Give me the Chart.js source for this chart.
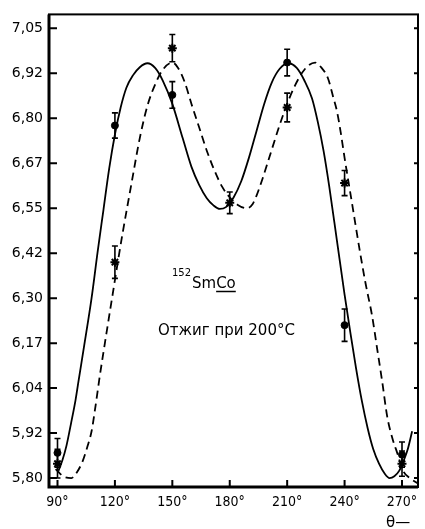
<!DOCTYPE html>
<html>
<head>
<meta charset="utf-8">
<script src="https://cdn.jsdelivr.net/npm/chart.js@4.4.1/dist/chart.umd.min.js"></script>
<style>
  html, body { margin: 0; padding: 0; background: #fff; }
  canvas { display: block; }
</style>
</head>
<body>
<canvas id="chart" width="425" height="529" style="width:425px;height:529px"></canvas>
<script>
// ---- data ----
const xTicks = [90, 120, 150, 180, 210, 240, 270];
const yTicks = [5.80, 5.925, 6.05, 6.175, 6.30, 6.425, 6.55, 6.675, 6.80, 6.925, 7.05];
const yTickLabels = ['5,80', '5,92', '6,04', '6,17', '6,30', '6,42', '6,55', '6,67', '6,80', '6,92', '7,05'];

// solid curve
const solidDeg = [90.5, 92.6, 94.7, 97, 99.4, 101, 104, 107.8, 111, 114, 117, 120, 123, 126, 129.5, 133, 137,
  141, 145, 150, 155.4, 160, 164, 168, 171.5, 174.8, 178, 182, 186, 190, 194, 198, 202, 206, 210.5,
  215, 219, 223, 226, 229, 232, 236, 240, 243, 246, 249, 252, 255, 258, 261, 263.5, 266, 268.5, 271, 273, 275.3];
const solidVal = [5.82, 5.85, 5.89, 5.95, 6.016, 6.07, 6.17, 6.30, 6.43, 6.545, 6.66, 6.755, 6.83, 6.885, 6.92, 6.942, 6.953,
  6.94, 6.905, 6.84, 6.745, 6.665, 6.615, 6.578, 6.558, 6.548, 6.553, 6.58, 6.625, 6.69, 6.765, 6.84, 6.90, 6.937, 6.953,
  6.94, 6.905, 6.855, 6.79, 6.71, 6.61, 6.46, 6.31, 6.205, 6.105, 6.015, 5.94, 5.88, 5.84, 5.812, 5.80, 5.805, 5.82, 5.85, 5.88, 5.93];

// dashed curve
const dashDeg = [89, 93, 97.3, 100, 103, 105.5, 107.8, 110, 112, 115.5, 118.8, 121.5, 124, 128.7, 133, 137,
  141.5, 145, 150, 153, 156.5, 160, 164, 168, 172, 176, 180, 184, 189, 192, 194, 197, 200,
  206, 210, 214, 219, 224.6, 228, 231.4, 234, 236, 238, 240, 244, 248, 251, 254.4, 257, 259.6, 262.3,
  265, 267.5, 270.6, 274, 278.3];
const dashVal = [5.825, 5.805, 5.80, 5.815, 5.845, 5.885, 5.93, 6.005, 6.08, 6.20, 6.31, 6.40, 6.48, 6.62, 6.745, 6.835,
  6.90, 6.935, 6.955, 6.94, 6.90, 6.84, 6.775, 6.71, 6.655, 6.61, 6.58, 6.56, 6.55, 6.562, 6.585, 6.63, 6.68,
  6.78, 6.84, 6.89, 6.935, 6.955, 6.94, 6.91, 6.86, 6.82, 6.76, 6.69, 6.56, 6.43, 6.34, 6.25, 6.16, 6.07, 5.97,
  5.91, 5.87, 5.82, 5.80, 5.785];

// measured points (filled circles)
const circleDeg = [90, 120, 150, 210, 240, 270];
const circleVal = [5.87, 6.78, 6.865, 6.955, 6.225, 5.865];
const circleErr = [0.04, 0.035, 0.037, 0.037, 0.045, 0.035];

// measured points (crosses)
const crossDeg = [90, 120, 150, 180, 210, 240, 270];
const crossVal = [5.84, 6.40, 6.995, 6.565, 6.83, 6.62, 5.84];
const crossErr = [0.04, 0.045, 0.038, 0.03, 0.04, 0.035, 0.035];

const pts = (xs, ys) => xs.map((x, i) => ({ x: x, y: ys[i] }));

// frame, inward ticks, error bars and texts
const decor = {
  id: 'decor',
  afterDatasetsDraw(chart) {
    const ctx = chart.ctx;
    const xs = chart.scales.x, ys = chart.scales.y;
    ctx.save();
    ctx.strokeStyle = '#000';
    ctx.lineWidth = 1.6;
    const bars = (xArr, vArr, eArr) => {
      xArr.forEach((d, i) => {
        const px = xs.getPixelForValue(d);
        const top = ys.getPixelForValue(vArr[i] + eArr[i]);
        const bot = ys.getPixelForValue(vArr[i] - eArr[i]);
        ctx.beginPath();
        ctx.moveTo(px, top); ctx.lineTo(px, bot);
        ctx.moveTo(px - 3, top); ctx.lineTo(px + 3, top);
        ctx.moveTo(px - 3, bot); ctx.lineTo(px + 3, bot);
        ctx.stroke();
      });
    };
    bars(circleDeg, circleVal, circleErr);
    bars(crossDeg, crossVal, crossErr);
    ctx.restore();
  },
  afterDraw(chart) {
    const ctx = chart.ctx;
    const a = chart.chartArea;
    const xs = chart.scales.x, ys = chart.scales.y;
    ctx.save();
    ctx.strokeStyle = '#000';
    // frame
    ctx.lineWidth = 2;
    ctx.strokeRect(a.left, a.top, a.right - a.left, a.bottom - a.top);
    ctx.lineWidth = 3;
    ctx.beginPath();
    ctx.moveTo(a.left, a.top); ctx.lineTo(a.left, a.bottom); ctx.lineTo(a.right, a.bottom);
    ctx.stroke();
    // inward ticks
    ctx.lineWidth = 2;
    ctx.beginPath();
    yTicks.forEach(v => {
      const py = ys.getPixelForValue(v);
      ctx.moveTo(a.left, py); ctx.lineTo(a.left + 8, py);
      ctx.moveTo(a.right, py); ctx.lineTo(a.right - 4, py);
    });
    xTicks.forEach(v => {
      const px = xs.getPixelForValue(v);
      ctx.moveTo(px, a.bottom); ctx.lineTo(px, a.bottom - 7);
    });
    ctx.stroke();
    // texts
    ctx.fillStyle = '#000';
    ctx.textBaseline = 'alphabetic';
    ctx.textAlign = 'left';
    ctx.font = '10px "DejaVu Sans"';
    ctx.fillText('152', 172, 276);
    ctx.font = '15px "DejaVu Sans"';
    ctx.fillText('Sm', 192, 288);
    const coX = 192 + ctx.measureText('Sm').width;
    ctx.fillText('Co', coX, 288);
    const coW = ctx.measureText('Co').width;
    ctx.lineWidth = 1.5;
    ctx.beginPath();
    ctx.moveTo(coX, 291.5); ctx.lineTo(coX + coW, 291.5);
    ctx.stroke();
    ctx.fillText('Отжиг при 200°C', 158, 335);
    ctx.fillText('θ—', 386, 527);
    ctx.restore();
  }
};

new Chart(document.getElementById('chart'), {
  type: 'scatter',
  data: {
    datasets: [
      {
        data: pts(solidDeg, solidVal),
        showLine: true,
        borderColor: '#000',
        borderWidth: 1.8,
        pointRadius: 0,
        cubicInterpolationMode: 'monotone',
      },
      {
        data: pts(dashDeg, dashVal),
        showLine: true,
        borderColor: '#000',
        borderWidth: 1.8,
        borderDash: [8, 5],
        pointRadius: 0,
        cubicInterpolationMode: 'monotone',
      },
      {
        data: pts(circleDeg, circleVal),
        pointStyle: 'circle',
        pointRadius: 3.5,
        backgroundColor: '#000',
        borderColor: '#000',
        borderWidth: 1,
      },
      {
        data: pts(crossDeg, crossVal),
        pointStyle: 'star',
        pointRadius: 4.5,
        backgroundColor: '#000',
        borderColor: '#000',
        borderWidth: 2,
      }
    ]
  },
  options: {
    responsive: false,
    animation: false,
    devicePixelRatio: 1,
    layout: { padding: { top: 13, right: 7, left: 0, bottom: 0 } },
    plugins: { legend: { display: false }, tooltip: { enabled: false } },
    events: [],
    scales: {
      x: {
        type: 'linear',
        min: 85.56,
        max: 278.36,
        afterBuildTicks: s => { s.ticks = xTicks.map(v => ({ value: v })); },
        afterFit: s => { s.height = 42; },
        grid: { display: false, drawTicks: false },
        border: { display: false },
        ticks: {
          autoSkip: false,
          maxRotation: 0,
          padding: 7,
          color: '#000',
          font: { family: '"DejaVu Sans Condensed"', size: 14 },
          callback: v => v + '°'
        }
      },
      y: {
        type: 'linear',
        min: 5.7751,
        max: 7.0888,
        afterBuildTicks: s => { s.ticks = yTicks.map(v => ({ value: v })); },
        afterFit: s => { s.width = 49; },
        grid: { display: false, drawTicks: false },
        border: { display: false },
        ticks: {
          autoSkip: false,
          padding: 6,
          color: '#000',
          font: { family: '"DejaVu Sans"', size: 14 },
          callback: (v, i) => yTickLabels[i]
        }
      }
    }
  },
  plugins: [decor]
});
</script>
</body>
</html>
